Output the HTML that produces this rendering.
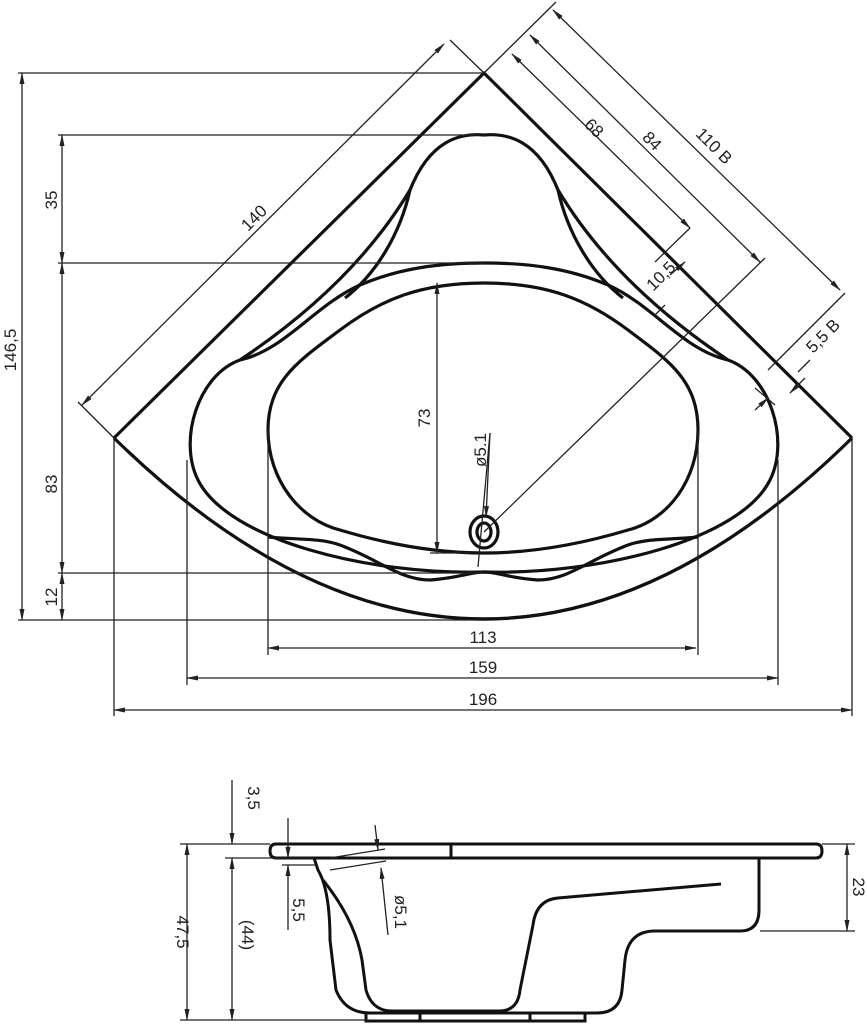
<!DOCTYPE html>
<html><head><meta charset="utf-8"><style>
html,body{margin:0;padding:0;background:#fff;}
svg{display:block;}
text{font-family:"Liberation Sans",sans-serif;font-size:17px;fill:#222;}
</style></head><body>
<svg width="867" height="1024" viewBox="0 0 867 1024" xmlns="http://www.w3.org/2000/svg">
<defs>
<marker id="a" markerWidth="12" markerHeight="6" refX="11" refY="3" orient="auto-start-reverse" markerUnits="userSpaceOnUse"><path d="M0,0.5 L12,3 L0,5.5 Z" fill="#222"/></marker>
</defs>
<g fill="none" stroke="#111" stroke-width="3.2" stroke-linejoin="round">
<path d="M114,438 L484,73 L852,438"/>
<path d="M114,438 Q484,800 852,438"/>
<!-- seat -->
<path d="M240,360 C330,300 380,240 410,190 C430,140 460,133 484,135 C508,133 538,140 558,190 C588,240 638,300 728,360"/>
<path d="M410,190 C400,235 375,275 345,298"/>
<path d="M558,190 C568,235 593,275 623,298"/>
<!-- rim 159 -->
<path d="M240,360 C285,350 315,305 360,285 C400,268 440,263 484,263 C528,263 568,268 608,285 C653,305 683,350 728,360 C770,375 790,440 770,480 C740,540 600,575 484,572 C368,575 228,540 198,480 C178,440 198,375 240,360 Z"/>
<!-- basin 113 -->
<path d="M484,283 C420,283 380,300 340,330 C300,360 268,380 268,430 C268,480 300,520 340,530 C390,545 440,553 484,553 C528,553 578,545 628,530 C668,520 698,480 698,430 C698,380 668,360 628,330 C588,300 548,283 484,283 Z"/>
<!-- wavy lower -->
<path d="M268,537 C300,540 320,538 340,545 C380,560 400,580 430,580 C460,578 470,572 484,572 C498,572 508,578 538,580 C568,580 588,560 628,545 C648,538 668,540 698,537"/>
<ellipse cx="484" cy="532" rx="14" ry="16"/>
<ellipse cx="484" cy="532" rx="7" ry="9"/>
</g>
<g fill="none" stroke="#222" stroke-width="1.3">
<path d="M18,73H484 M58,135H480 M58,263H484 M58,573H484 M18,620H484"/>
<path d="M22,73V620" marker-start="url(#a)" marker-end="url(#a)"/>
<path d="M62,135V263" marker-start="url(#a)" marker-end="url(#a)"/>
<path d="M62,263V573" marker-start="url(#a)" marker-end="url(#a)"/>
<path d="M62,573V620" marker-start="url(#a)" marker-end="url(#a)"/>
<path d="M268,430V655 M698,430V655 M187,460V685 M778,460V685 M114,438V716 M852,438V716"/>
<path d="M268,648H696" marker-start="url(#a)" marker-end="url(#a)"/>
<path d="M187,678H778" marker-start="url(#a)" marker-end="url(#a)"/>
<path d="M114,710H852" marker-start="url(#a)" marker-end="url(#a)"/>
<path d="M430,553H470"/>
<path d="M437,283V553" marker-start="url(#a)" marker-end="url(#a)"/>
<path d="M490,433L478,567"/>
<path d="M490,433L486,517" marker-end="url(#a)"/>
<path d="M484,73L450,40 M114,438L78,402"/>
<path d="M444,44L82,405" marker-start="url(#a)" marker-end="url(#a)"/>
<path d="M484,73L556,2"/>
<path d="M690,228L655,262 M484,532L765,258 M845,293L768,370"/>
<path d="M512,54L690,228" marker-start="url(#a)" marker-end="url(#a)"/>
<path d="M530,35L760,262" marker-start="url(#a)" marker-end="url(#a)"/>
<path d="M553,10L840,290" marker-start="url(#a)" marker-end="url(#a)"/>
<path d="M670,275L685,262" marker-end="url(#a)"/>
<path d="M665,305L655,315" />
<path d="M810,360L798,372 M805,378L790,393" marker-end="url(#a)"/>
<path d="M755,388L775,405" />
<path d="M755,410L768,398" marker-end="url(#a)"/>
</g>
<g>
<text transform="translate(57,200) rotate(-90)" text-anchor="middle">35</text>
<text transform="translate(57,484) rotate(-90)" text-anchor="middle">83</text>
<text transform="translate(57,597) rotate(-90)" text-anchor="middle">12</text>
<text transform="translate(16,350) rotate(-90)" text-anchor="middle">146,5</text>
<text transform="translate(430,418) rotate(-90)" text-anchor="middle">73</text>
<text transform="translate(486,450) rotate(-90)" text-anchor="middle">ø5.1</text>
<text x="483" y="643" text-anchor="middle">113</text>
<text x="483" y="673" text-anchor="middle">159</text>
<text x="483" y="705" text-anchor="middle">196</text>
<text transform="translate(258,222) rotate(-45)" text-anchor="middle">140</text>
<text transform="translate(590,132) rotate(45)" text-anchor="middle">68</text>
<text transform="translate(648,145) rotate(45)" text-anchor="middle">84</text>
<text transform="translate(710,150) rotate(45)" text-anchor="middle">110 B</text>
<text transform="translate(665,280) rotate(-45)" text-anchor="middle">10,5</text>
<text transform="translate(827,340) rotate(-45)" text-anchor="middle">5,5 B</text>
</g>
<g fill="none" stroke="#111" stroke-width="3">
<path d="M276,844H816 Q822,844 822,851 Q822,858 816,858 H276 Q270,858 270,851 Q270,844 276,844 Z"/>
<path d="M451,844V858"/>
<path d="M314,858 L318,870 Q330,890 330,940 L336,990 Q345,1013 370,1013 H597 Q620,1013 622,990 L625,960 Q628,931 655,931 H740 Q759,931 759,910 V858"/>
<path d="M323,880 Q355,920 362,960 L366,990 Q372,1011 392,1011 H499 Q518,1011 520,990 L533,925 Q536,900 558,898 L721,884"/>
<path d="M366,1013V1021H585V1013 M420,1013V1021 M530,1013V1021"/>
</g>
<g fill="none" stroke="#222" stroke-width="1.3">
<path d="M180,844H270 M225,858H314 M180,1020H370 M822,844H855 M760,931H855"/>
<path d="M187,844V1020" marker-start="url(#a)" marker-end="url(#a)"/>
<path d="M232,858V1020" marker-start="url(#a)" marker-end="url(#a)"/>
<path d="M232,780V844" marker-end="url(#a)"/>
<path d="M847,844V931" marker-start="url(#a)" marker-end="url(#a)"/>
<path d="M288,818V858" marker-end="url(#a)"/>
<path d="M288,930V865" marker-end="url(#a)"/>
<path d="M282,865H318"/>
<path d="M375,825L378,850" marker-end="url(#a)"/>
<path d="M388,935L381,868" marker-end="url(#a)"/>
<path d="M330,870L386,861 M330,858L385,849"/>
</g>
<g>
<text transform="translate(248,798) rotate(90)" text-anchor="middle">3,5</text>
<text transform="translate(177,932) rotate(90)" text-anchor="middle">47,5</text>
<text transform="translate(242,935) rotate(90)" text-anchor="middle">(44)</text>
<text transform="translate(293,910) rotate(90)" text-anchor="middle">5,5</text>
<text transform="translate(395,912) rotate(90)" text-anchor="middle">ø5,1</text>
<text transform="translate(853,887) rotate(90)" text-anchor="middle">23</text>
</g>
</svg>
</body></html>
